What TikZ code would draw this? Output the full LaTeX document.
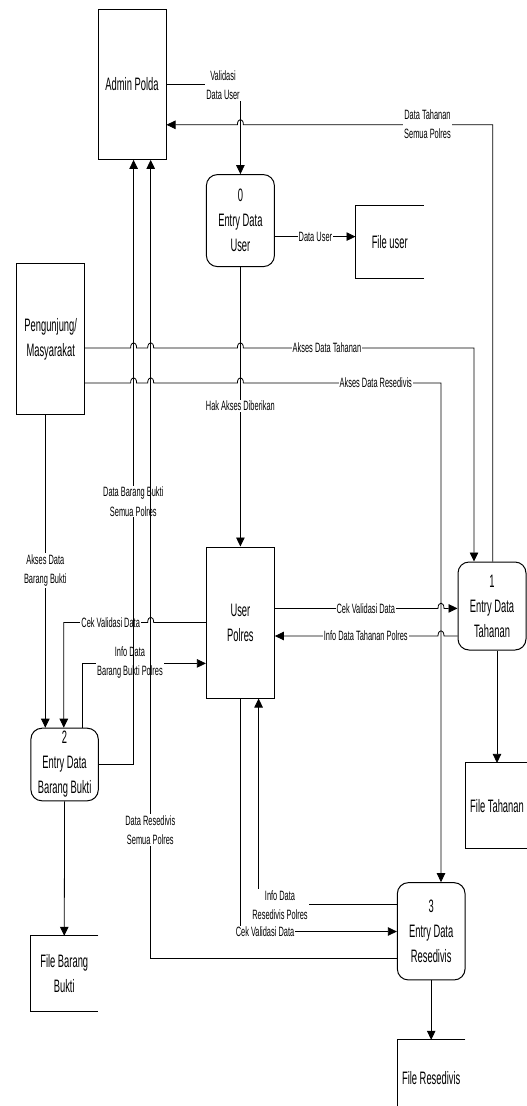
\documentclass[tikz,border=0pt]{standalone}
\usepackage{fontspec}
\setmainfont{Liberation Sans}
\newfontfamily\nodeff{Liberation Sans}[FakeStretch=0.52]
\newfontfamily\lblff{Liberation Sans}[FakeStretch=0.55]
\usetikzlibrary{arrows.meta}
\newcommand\nodefont{\nodeff\fontsize{18}{25}\selectfont}
\newcommand\lblfont{\lblff\fontsize{13.5}{19.5}\selectfont}
\newcommand\hopR[2]{-- ({#1-3},#2) .. controls ({#1-3},{#2-7}) and ({#1+3},{#2-7}) .. ({#1+3},#2)}
\newcommand\hopL[2]{-- ({#1+3},#2) .. controls ({#1+3},{#2-7}) and ({#1-3},{#2-7}) .. ({#1-3},#2)}
\tikzset{
  box/.style={draw,line width=1pt,inner sep=0pt,align=center,font=\nodefont},
  proc/.style={box,rounded corners=11pt},
  store/.style={inner sep=0pt,align=center,font=\nodefont},
  storeline/.style={line width=1pt},
  lbl/.style={fill=white,inner sep=1pt,align=center,font=\lblfont},
  flow/.style={line width=0.8pt,-{Triangle[length=9pt,width=8.5pt]}}
}
\begin{document}
\begin{tikzpicture}[x=1pt,y=-1pt]
\useasboundingbox (0,0) rectangle (527,1106);
\fill[white] (0,0) rectangle (527,1106);
\clip (0,0) rectangle (527,1106);

% nodes
\node[box,minimum width=68pt,minimum height=150pt] (admin) at (132,84.4) {Admin Polda};
\node[proc,minimum width=68pt,minimum height=92pt] (p0) at (240.4,220.6) {0\\Entry Data\\User};
\node[store,minimum width=68pt,minimum height=73pt] (fuser) at (389.7,242) {File user};
\node[box,minimum width=68pt,minimum height=151pt] (peng) at (50.7,338.9) {Pengunjung/\\Masyarakat};
\node[box,minimum width=68pt,minimum height=151pt] (userp) at (240.4,622.5) {User\\Polres};
\node[proc,minimum width=68pt,minimum height=88pt] (p1) at (492,606) {1\\Entry Data\\Tahanan};
\node[store,minimum width=62pt,minimum height=85pt] (ftah) at (497,805.6) {File Tahanan};
\node[proc,minimum width=67.4pt,minimum height=72.6pt] (p2) at (64.6,764.5) {2\\Entry Data\\Barang Bukti};
\node[store,minimum width=68pt,minimum height=75.5pt] (fbb) at (64.25,973.75) {File Barang\\Bukti};
\node[proc,minimum width=67.7pt,minimum height=97.3pt] (p3) at (431.2,931.3) {3\\Entry Data\\Resedivis};
\node[store,minimum width=67.7pt,minimum height=76.6pt] (fres) at (431.2,1078.3) {File Resedivis};

% data store outlines (open on the right)
\draw[storeline] (fuser.north east) -- (fuser.north west) -- (fuser.south west) -- (fuser.south east);
\draw[storeline] (ftah.north east) -- (ftah.north west) -- (ftah.south west) -- (ftah.south east);
\draw[storeline] (fbb.north east) -- (fbb.north west) -- (fbb.south west) -- (fbb.south east);
\draw[storeline] (fres.north east) -- (fres.north west) -- (fres.south west) -- (fres.south east);

% Validasi Data User
\draw[flow] (admin.east) -- (admin.east -| p0.north) -- (p0.north);
\node[lbl] (lval) at (223,85) {Validasi\\Data User};

% Data Tahanan Semua Polres
\coordinate (c1) at (492.7,124.8);
\draw[flow] (p1.north -| c1) -- (c1) \hopL{240.4}{124.8} -- (admin.east |- c1);
\node[lbl] (ldt) at (427.5,124) {Data Tahanan\\Semua Polres};

% Data User
\draw[flow] (p0.east |- 0,236.6) -- (fuser.west |- 0,236.6);
\node[lbl] (ldu) at (315.4,236.6) {Data User};

% Akses Data Tahanan
\draw[flow] (peng.east |- 0,348) \hopR{133.6}{348} \hopR{150.7}{348} \hopR{240.4}{348} -- (474,348) -- (474,0 |- p1.north);
\node[lbl] (ladt) at (327,348) {Akses Data Tahanan};

% Akses Data Resedivis
\draw[flow] (peng.east |- 0,383) \hopR{133.6}{383} \hopR{150.7}{383} \hopR{240.4}{383} -- (441,383) -- (441,0 |- p3.north);
\node[lbl] (ladr) at (375.8,383) {Akses Data Resedivis};

% Hak Akses Diberikan
\draw[flow] (p0.south) -- (userp.north);
\node[lbl] (lhak) at (240.4,406) {Hak Akses Diberikan};

% Cek Validasi Data (to Tahanan)
\draw[flow] (userp.east |- 0,608.4) \hopR{441}{608.4} -- (p1.west |- 0,608.4);
\node[lbl] (lcv1) at (365.8,608.4) {Cek Validasi Data};

% Info Data Tahanan Polres
\draw[flow] (p1.west |- 0,636) \hopL{441}{636} -- (userp.east |- 0,636);
\node[lbl] (lit) at (365.8,636) {Info Data Tahanan Polres};

% Entry Data Tahanan -> File Tahanan
\draw[flow] (p1.south -| 497,0) -- (ftah.north -| 497,0);

% Cek Validasi Data (to Barang Bukti)
\draw[flow] (userp.west |- 0,622.5) \hopL{150.7}{622.5} -- (63.8,622.5) -- (63.8,0 |- p2.north);
\node[lbl] (lcv2) at (110.7,622.5) {Cek Validasi Data};

% Info Data Barang Bukti Polres
\draw[flow] (82.2,0 |- p2.north) -- (82.2,663.4) -- (userp.west |- 0,663.4);
\node[lbl] (libb) at (130,662.7) {Info Data\\Barang Bukti Polres};

% Akses Data Barang Bukti
\draw[flow] (peng.south -| 45.3,0) -- (45.3,0 |- p2.north);
\node[lbl] (labb) at (45.3,570.5) {Akses Data\\Barang Bukti};

% Entry Data Barang Bukti -> File Barang Bukti
\draw[flow] (p2.south) -- (fbb.north);

% Info Data Resedivis Polres
\draw[flow] (p3.west |- 0,904.3) -- (258.6,904.3) -- (258.6,0 |- userp.south);
\node[lbl] (lir) at (280,905) {Info Data\\Resedivis Polres};

% Cek Validasi Data (to Resedivis)
\draw[flow] (240.4,0 |- userp.south) -- (240.4,931.5) -- (p3.west |- 0,931.5);
\node[lbl] (lcv3) at (265,931.5) {Cek Validasi Data};

% Entry Data Resedivis -> File Resedivis
\draw[flow] (p3.south) -- (fres.north);

% Data Barang Bukti Semua Polres
\draw[flow] (p2.east) -- (133.6,0 |- p2.east) -- (133.6,0 |- admin.south);
\node[lbl] (ldbb) at (133.3,501.6) {Data Barang Bukti\\Semua Polres};

% Data Resedivis Semua Polres
\draw[flow] (p3.west |- 0,958.7) -- (150.7,958.7) -- (150.7,0 |- admin.south);
\node[lbl] (ldr) at (150.3,830) {Data Resedivis\\Semua Polres};
\end{tikzpicture}
\end{document}
